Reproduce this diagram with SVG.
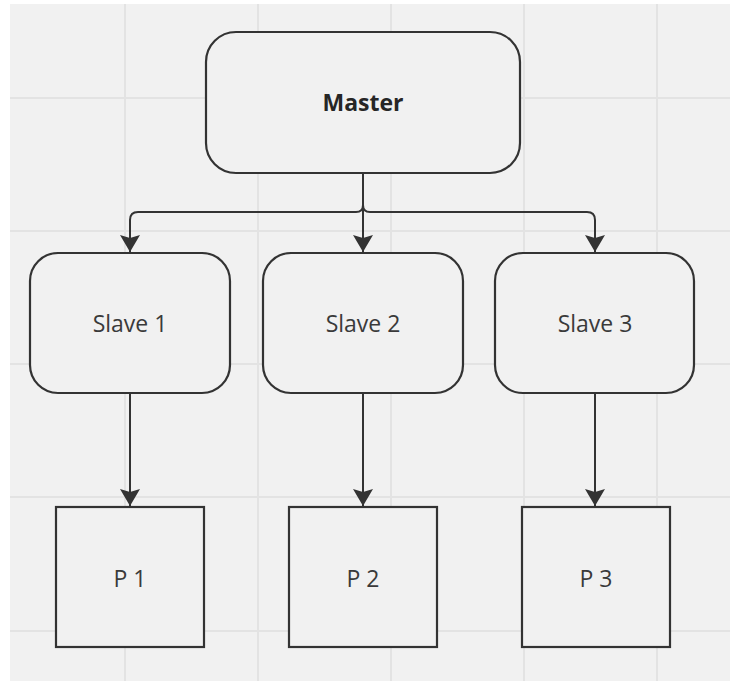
<svg xmlns="http://www.w3.org/2000/svg" width="730" height="681" viewBox="0 0 730 681">
  <style>
    .grid { stroke: #e3e3e3; stroke-width: 2; }
    .node { fill: #f1f1f1; stroke: #333333; stroke-width: 2.2; }
    .edge { fill: none; stroke: #333333; stroke-width: 2; }
    .label { font-family: "Open Sans", "Noto Sans", sans-serif; font-size: 23px; fill: #3a3a3a; text-anchor: middle; }
    .title { font-weight: bold; fill: #262626; }
  </style>
  <defs>
    <!-- arrowhead drawn along +x, tip at the origin -->
    <marker id="arrow" viewBox="-18 -11 19 22" markerWidth="19" markerHeight="22" refX="0" refY="0" orient="auto" markerUnits="userSpaceOnUse">
      <path d="M0,0 L-17,-10 L-14,0 L-17,10 Z" fill="#333333"/>
    </marker>
  </defs>

  <!-- canvas -->
  <rect x="0" y="0" width="730" height="681" fill="#ffffff"/>
  <rect x="10" y="4" width="720" height="677" fill="#f1f1f1"/>
  <g id="grid">
    <line class="grid" x1="125" y1="4" x2="125" y2="681"/>
    <line class="grid" x1="258" y1="4" x2="258" y2="681"/>
    <line class="grid" x1="391" y1="4" x2="391" y2="681"/>
    <line class="grid" x1="524" y1="4" x2="524" y2="681"/>
    <line class="grid" x1="657" y1="4" x2="657" y2="681"/>
    <line class="grid" x1="10" y1="98" x2="730" y2="98"/>
    <line class="grid" x1="10" y1="231" x2="730" y2="231"/>
    <line class="grid" x1="10" y1="364" x2="730" y2="364"/>
    <line class="grid" x1="10" y1="497" x2="730" y2="497"/>
    <line class="grid" x1="10" y1="631" x2="730" y2="631"/>
  </g>

  <!-- connectors -->
  <g id="connectors">
    <path class="edge" d="M363,173 V205 Q363,212 356,212 H138 Q130,212 130,220 V252" marker-end="url(#arrow)"/>
    <path class="edge" d="M363,173 V252" marker-end="url(#arrow)"/>
    <path class="edge" d="M363,173 V205 Q363,212 370,212 H587 Q595,212 595,220 V252" marker-end="url(#arrow)"/>
    <path class="edge" d="M130,393 V506" marker-end="url(#arrow)"/>
    <path class="edge" d="M363,393 V506" marker-end="url(#arrow)"/>
    <path class="edge" d="M595,393 V506" marker-end="url(#arrow)"/>
  </g>

  <g id="master">
    <rect class="node" x="206" y="32" width="314" height="141" rx="30" ry="30"/>
    <text class="label title" x="363" y="111">Master</text>
  </g>

  <g id="slave1">
    <rect class="node" x="30" y="253" width="200" height="140" rx="28" ry="28"/>
    <text class="label" x="130" y="332">Slave 1</text>
  </g>
  <g id="slave2">
    <rect class="node" x="263" y="253" width="200" height="140" rx="28" ry="28"/>
    <text class="label" x="363" y="332">Slave 2</text>
  </g>
  <g id="slave3">
    <rect class="node" x="495" y="253" width="199" height="140" rx="28" ry="28"/>
    <text class="label" x="595" y="332">Slave 3</text>
  </g>

  <g id="p1">
    <rect class="node" x="56" y="507" width="148" height="140"/>
    <text class="label" x="130" y="587">P 1</text>
  </g>
  <g id="p2">
    <rect class="node" x="289" y="507" width="148" height="140"/>
    <text class="label" x="363" y="587">P 2</text>
  </g>
  <g id="p3">
    <rect class="node" x="522" y="507" width="148" height="140"/>
    <text class="label" x="596" y="587">P 3</text>
  </g>
</svg>
